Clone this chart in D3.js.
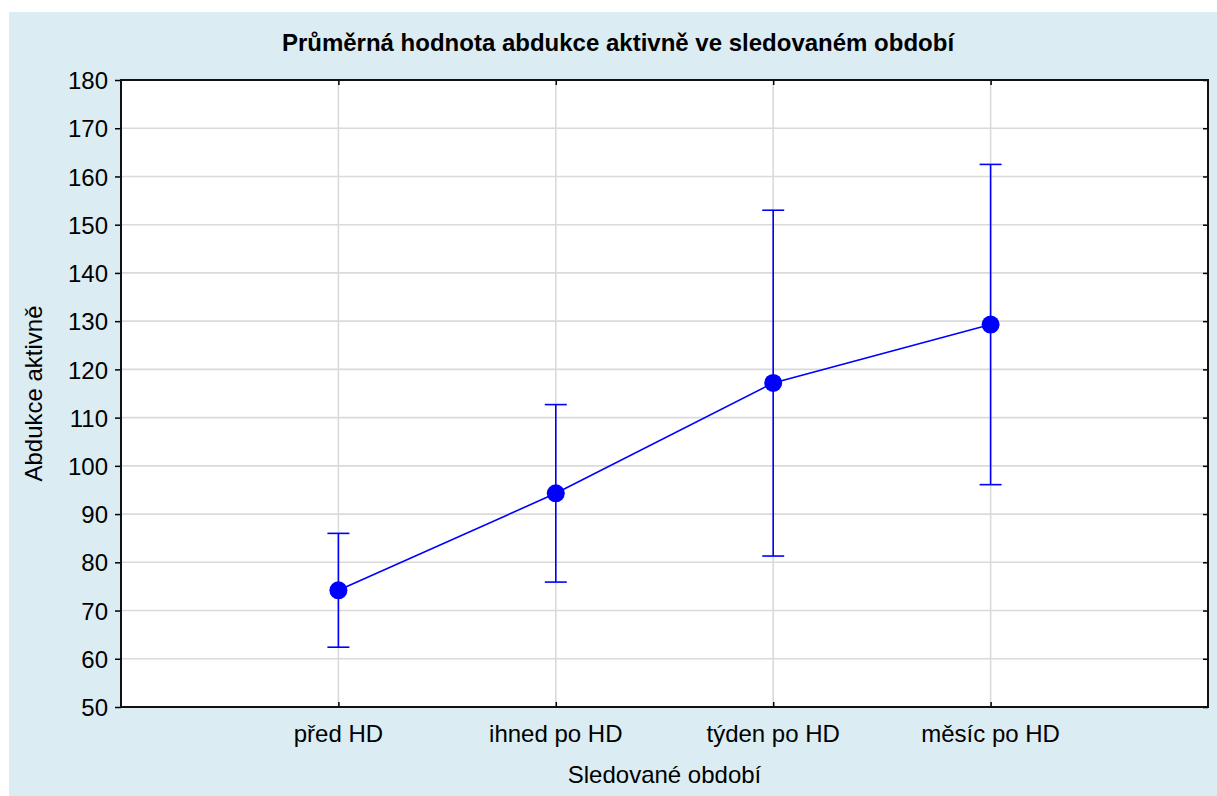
<!DOCTYPE html>
<html>
<head>
<meta charset="utf-8">
<script src="https://cdnjs.cloudflare.com/ajax/libs/d3/7.8.5/d3.min.js"></script>
<style>
  body { margin: 0; background: #ffffff; }
  text { font-family: "Liberation Sans", Arial, sans-serif; fill: #000; }
</style>
</head>
<body>
<div class="meanPlot"></div>
<script>

//categories on the x axis:
var periods = ["před HD", "ihned po HD", "týden po HD", "měsíc po HD"];

//mean values and error bar ends:
var means = [74.2, 94.3, 117.2, 129.3];
var upperVals = [86.0, 112.7, 153.0, 162.5];
var lowerVals = [62.4, 75.9, 81.3, 96.1];

//y axis ticks:
var yTicks = [50, 60, 70, 80, 90, 100, 110, 120, 130, 140, 150, 160, 170, 180];

var titleText = "Průměrná hodnota abdukce aktivně ve sledovaném období";
var xLabel = "Sledované období";
var yLabel = "Abdukce aktivně";

var plotConstants = {
    margin: {top: 80, right: 9, bottom: 89, left: 121},
    fullWidth: 1217,
    fullHeight: 796
};

var c = plotConstants;
c.width = c.fullWidth - c.margin.left - c.margin.right;
c.height = c.fullHeight - c.margin.top - c.margin.bottom;

var root = d3.select(".meanPlot").append("svg")
    .attr("width", c.fullWidth)
    .attr("height", c.fullHeight);

//light blue panel behind everything:
root.append("rect")
    .attr("x", 9)
    .attr("y", 12)
    .attr("width", c.fullWidth - 9)
    .attr("height", c.fullHeight - 12)
    .attr("fill", "#dbecf3");

//title:
root.append("text")
    .attr("x", 618)
    .attr("y", 51)
    .attr("text-anchor", "middle")
    .attr("font-size", "24px")
    .attr("font-weight", "bold")
    .text(titleText);

var svg = root.append("g")
    .attr("transform", "translate(" + c.margin.left + "," + c.margin.top + ")");

svg.append("rect")
    .attr("width", c.width)
    .attr("height", c.height)
    .attr("fill", "#ffffff");

//scales:
var x = d3.scalePoint()
    .domain(periods)
    .range([0, c.width])
    .padding(1);

var y = d3.scaleLinear()
    .domain([50, 180])
    .range([c.height, 0]);

//grid lines:
svg.append("g")
    .selectAll("line")
    .data(yTicks)
    .enter().append("line")
    .attr("x1", 0)
    .attr("x2", c.width)
    .attr("y1", function (d) { return y(d); })
    .attr("y2", function (d) { return y(d); })
    .attr("stroke", "#dadada")
    .attr("stroke-width", 1.6);

svg.append("g")
    .selectAll("line")
    .data(periods)
    .enter().append("line")
    .attr("x1", function (d) { return x(d); })
    .attr("x2", function (d) { return x(d); })
    .attr("y1", 0)
    .attr("y2", c.height)
    .attr("stroke", "#dadada")
    .attr("stroke-width", 1.6);

//axes: left ticks point out, the rest point in
var yAxis = svg.append("g")
    .call(d3.axisLeft(y).tickValues(yTicks).tickSize(6).tickPadding(7));

yAxis.selectAll("text")
    .attr("font-size", "24px")
    .attr("font-family", "Liberation Sans, Arial, sans-serif")
    .attr("dy", "0.36em");

svg.append("g")
    .attr("transform", "translate(" + c.width + ",0)")
    .call(d3.axisLeft(y).tickValues(yTicks).tickSize(5).tickFormat(""));

svg.append("g")
    .attr("transform", "translate(0," + c.height + ")")
    .call(d3.axisTop(x).tickSize(5).tickFormat(""));

svg.append("g")
    .call(d3.axisBottom(x).tickSize(5).tickFormat(""));

//category labels below the plot:
svg.append("g")
    .selectAll("text")
    .data(periods)
    .enter().append("text")
    .attr("x", function (d) { return x(d); })
    .attr("y", c.height + 35)
    .attr("text-anchor", "middle")
    .attr("font-size", "24px")
    .text(function (d) { return d; });

svg.selectAll(".domain").attr("stroke", "none");
svg.selectAll(".tick line").attr("stroke", "#000").attr("stroke-width", 1.5);

//plot frame:
svg.append("rect")
    .attr("width", c.width)
    .attr("height", c.height)
    .attr("fill", "none")
    .attr("stroke", "#111")
    .attr("stroke-width", 2);

//axis titles:
svg.append("text")
    .attr("x", c.width / 2)
    .attr("y", c.height + 76)
    .attr("text-anchor", "middle")
    .attr("font-size", "24px")
    .text(xLabel);

svg.append("text")
    .attr("transform", "translate(" + (-79) + "," + (c.height / 2) + ") rotate(-90)")
    .attr("text-anchor", "middle")
    .attr("font-size", "24px")
    .text(yLabel);

//error bars:
var blue = "#0000ff";
var capHalf = 11;

var bars = svg.append("g")
    .selectAll("g")
    .data(periods)
    .enter().append("g")
    .attr("stroke", blue)
    .attr("stroke-width", 1.6);

bars.append("line")
    .attr("x1", function (d) { return x(d); })
    .attr("x2", function (d) { return x(d); })
    .attr("y1", function (d, i) { return y(upperVals[i]); })
    .attr("y2", function (d, i) { return y(lowerVals[i]); });

bars.append("line")
    .attr("x1", function (d) { return x(d) - capHalf; })
    .attr("x2", function (d) { return x(d) + capHalf; })
    .attr("y1", function (d, i) { return y(upperVals[i]); })
    .attr("y2", function (d, i) { return y(upperVals[i]); });

bars.append("line")
    .attr("x1", function (d) { return x(d) - capHalf; })
    .attr("x2", function (d) { return x(d) + capHalf; })
    .attr("y1", function (d, i) { return y(lowerVals[i]); })
    .attr("y2", function (d, i) { return y(lowerVals[i]); });

//mean line and markers:
var line = d3.line()
    .x(function (d, i) { return x(periods[i]); })
    .y(function (d) { return y(d); });

svg.append("path")
    .datum(means)
    .attr("d", line)
    .attr("fill", "none")
    .attr("stroke", blue)
    .attr("stroke-width", 1.6);

svg.append("g")
    .selectAll("circle")
    .data(means)
    .enter().append("circle")
    .attr("cx", function (d, i) { return x(periods[i]); })
    .attr("cy", function (d) { return y(d); })
    .attr("r", 9)
    .attr("fill", blue);

</script>
</body>
</html>
